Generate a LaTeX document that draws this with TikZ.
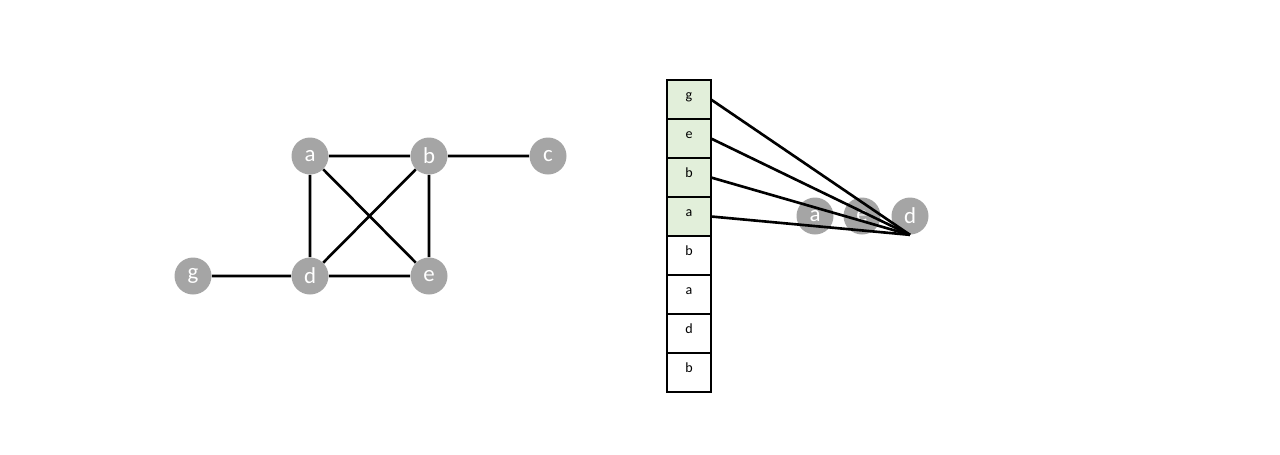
\documentclass[tikz,border=0pt]{standalone}
\usepackage{fontspec}
\setmainfont{Carlito}
\usetikzlibrary{positioning}
\definecolor{cGrey}{HTML}{A5A5A5}
\definecolor{cGreen}{HTML}{E2EFDA}

\begin{document}
\begin{tikzpicture}[x=0.02cm,y=-0.02cm,
   vtx/.style={circle,fill=cGrey,text=white,inner sep=0pt,minimum size=0.74cm,font=\fontsize{13}{15}\selectfont},
   cell/.style={draw,line width=1.1pt,fill=white,inner sep=0pt,outer sep=0pt,minimum width=0.88cm,minimum height=0.78cm,
     text height=5.5pt,text depth=5.5pt,font=\fontsize{8}{9}\selectfont},
   link/.style={line width=1.5pt}]
  \useasboundingbox (0,0) rectangle (1280,454);
  % left: the graph
  \node[vtx] (a) at (310,156) {a};
  \node[vtx] (b) at (429,156) {b};
  \node[vtx] (c) at (548,156) {c};
  \node[vtx] (g) at (193,276) {g};
  \node[vtx] (d) at (310,276) {d};
  \node[vtx] (e) at (429,276) {e};
  \draw[link] (a) -- (b) (b) -- (c) (a) -- (d) (a) -- (e)
              (b) -- (d) (b) -- (e) (d) -- (e) (g) -- (d);
  % right: the column of cells
  \node[cell,fill=cGreen] (c1) at (689,99.5) {g};
  \node[cell,fill=cGreen,below=0pt of c1] (c2) {e};
  \node[cell,fill=cGreen,below=0pt of c2] (c3) {b};
  \node[cell,fill=cGreen,below=0pt of c3] (c4) {a};
  \node[cell,below=0pt of c4] (c5) {b};
  \node[cell,below=0pt of c5] (c6) {a};
  \node[cell,below=0pt of c6] (c7) {d};
  \node[cell,below=0pt of c7] (c8) {b};
  \node[vtx] (ra) at (815,216) {a};
  \node[vtx] (re) at (862,216) {e};
  \node[vtx] (rd) at (910,216) {d};
  \foreach \i in {1,...,4}
    \draw[link] (c\i.east) -- (rd.south);
\end{tikzpicture}
\end{document}
